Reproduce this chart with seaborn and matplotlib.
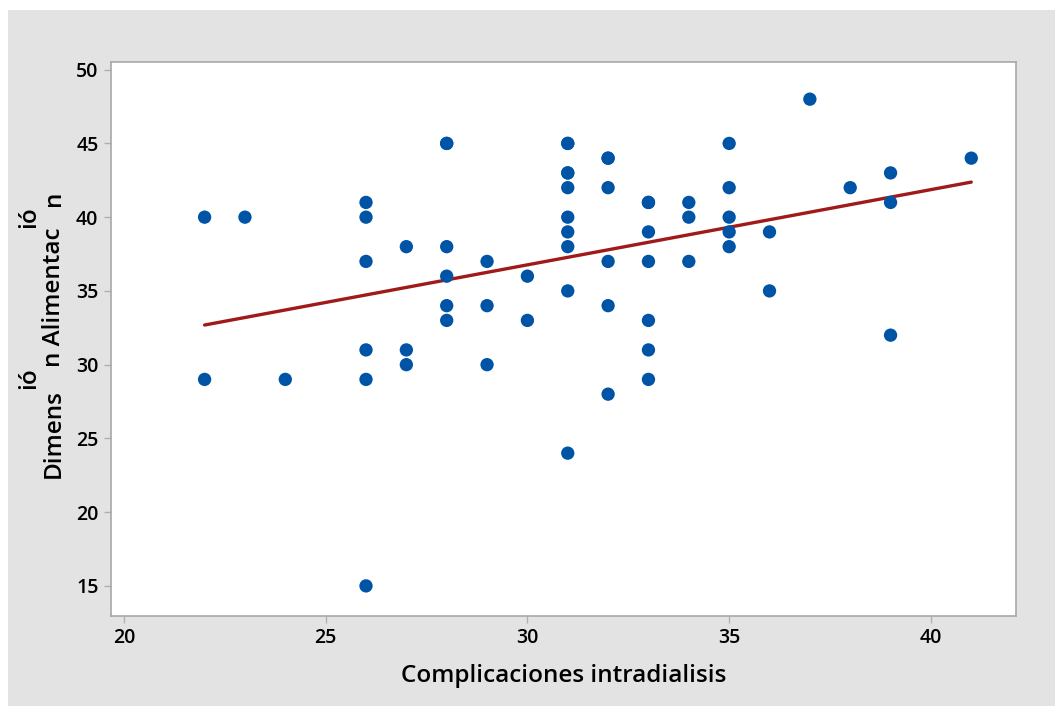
import matplotlib
matplotlib.use('Agg')
import matplotlib.pyplot as plt
import seaborn as sns
import pandas as pd
from matplotlib.patches import Rectangle

# Data (some points drawn twice in the source)
complicaciones = [22, 22, 23, 24,
                  26, 26, 26, 26, 26, 26,
                  27, 27, 27,
                  28, 28, 28, 28, 28, 28,
                  29, 29, 29,
                  30, 30,
                  31, 31, 31, 31, 31, 31, 31, 31, 31, 31,
                  32, 32, 32, 32, 32, 32,
                  33, 33, 33, 33, 33, 33, 33,
                  34, 34, 34,
                  35, 35, 35, 35, 35,
                  36, 36,
                  37, 38,
                  39, 39, 39,
                  41]
alimentacion = [40, 29, 40, 29,
                41, 40, 37, 31, 29, 15,
                38, 31, 30,
                45, 45, 38, 36, 34, 33,
                37, 34, 30,
                36, 33,
                45, 45, 43, 43, 42, 40, 39, 38, 35, 24,
                44, 44, 42, 37, 34, 28,
                41, 41, 39, 37, 33, 31, 29,
                41, 40, 37,
                45, 42, 40, 39, 38,
                39, 35,
                48, 42,
                43, 41, 32,
                44]

df = pd.DataFrame({'x': complicaciones, 'y': alimentacion})

sns.set_style('white')
plt.rcParams['font.family'] = ['Open Sans', 'DejaVu Sans']

fig = plt.figure(figsize=(10.55, 7.06), dpi=100)
fig.patch.set_facecolor('white')
fig.patches.append(Rectangle((8 / 1055, 0), 1, 1 - 10 / 706, transform=fig.transFigure,
                             facecolor='#e3e3e3', edgecolor='none', zorder=-10))

ax = fig.add_axes([0.1052, 0.1275, 0.8575, 0.7851])
ax.set_facecolor('white')

sns.regplot(data=df, x='x', y='y', ci=None, ax=ax,
            scatter_kws={'s': 92, 'color': '#0054a6', 'edgecolor': 'none', 'alpha': 1, 'zorder': 3},
            line_kws={'color': '#a01a1a', 'linewidth': 2.4, 'zorder': 2})

ax.set_xlim(19.68, 42.1)
ax.set_ylim(12.96, 50.54)
ax.set_xticks([20, 25, 30, 35, 40])
ax.set_yticks([15, 20, 25, 30, 35, 40, 45, 50])
ax.tick_params(axis='both', direction='out', length=5, width=1, color='#b0b0b0',
               bottom=True, left=True, labelsize=14, pad=4, labelcolor='black')
for lab in ax.get_xticklabels() + ax.get_yticklabels():
    lab.set_fontweight('semibold')
for s in ax.spines.values():
    s.set_color('#a8a8a8')
    s.set_linewidth(1.2)
    s.set_visible(True)

ax.set_xlabel('Complicaciones intradialisis', fontsize=17.5, fontweight='semibold',
              color='black', labelpad=11)
ax.set_ylabel('')

# y label as shown in the reference (the "ió" glyphs are shifted left)
pieces = ['Dimens', 'ió', 'n Alimentac', 'ió', 'n']
renderer = fig.canvas.get_renderer()
ypos = (706 - 478) / 706
for p in pieces:
    xcol = 29 / 1055 if p == 'ió' else 54 / 1055
    t = fig.text(xcol, ypos, p, rotation=90, ha='center', va='bottom',
                 fontsize=17.5, fontweight='semibold', color='black')
    bb = t.get_window_extent(renderer)
    ypos += bb.height / 706

fig.savefig('out.png', dpi=100, facecolor=fig.get_facecolor())
